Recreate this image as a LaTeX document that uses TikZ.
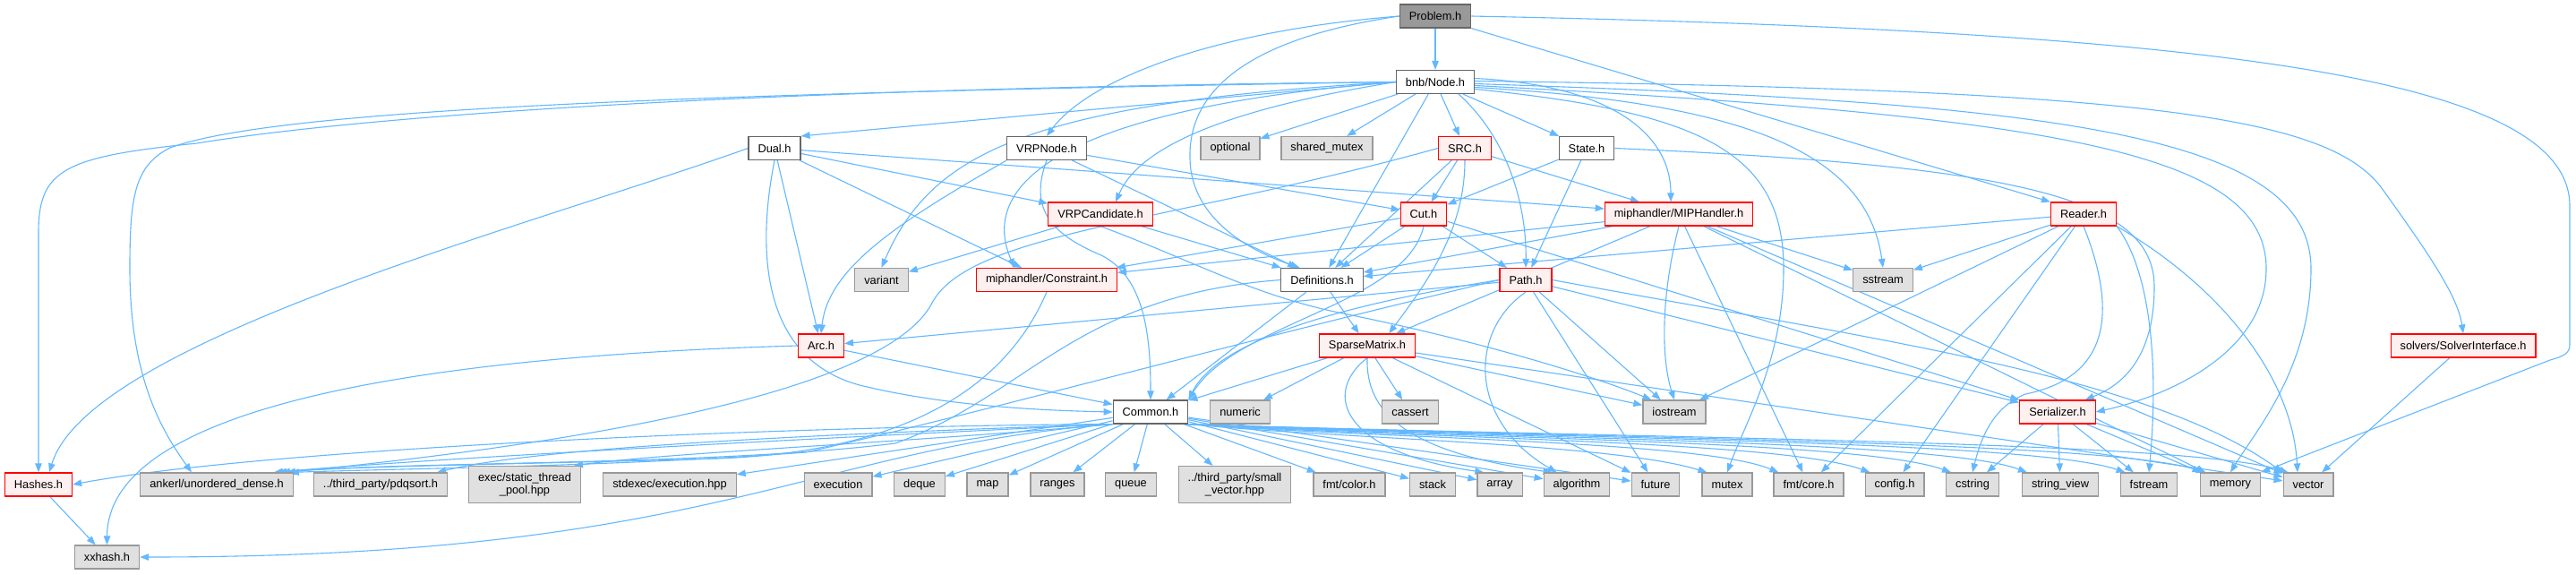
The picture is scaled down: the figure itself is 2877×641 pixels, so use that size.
\documentclass[tikz,border=0pt]{standalone}
\usepackage{fontspec}
\setmainfont{Liberation Sans}
\usetikzlibrary{arrows.meta}
\pgfdeclarelayer{bg}
\pgfsetlayers{bg,main}
\definecolor{edgec}{HTML}{63B8FF}
\definecolor{redb}{HTML}{FF0000}
\definecolor{redf}{HTML}{FFF0F0}
\definecolor{greyf}{HTML}{E0E0E0}
\definecolor{greyb}{HTML}{999999}
\definecolor{darkb}{HTML}{666666}
\definecolor{probf}{HTML}{999999}
\begin{document}
\begin{tikzpicture}[x=1pt,y=-1pt,
  box/.style={draw, line width=1.2pt, minimum height=26pt, inner xsep=10.5pt, inner ysep=1pt,
    font=\fontsize{12.8}{14.5}\selectfont, text=black, align=center},
  wbox/.style={box, draw=darkb, fill=white},
  rbox/.style={box, draw=redb, fill=redf},
  gbox/.style={box, draw=greyb, fill=greyf},
  pbox/.style={box, draw=darkb, fill=probf},
  ar/.style={draw=edgec, line width=1.1pt, -{Triangle[length=10pt,width=7.5pt]}}]
\useasboundingbox (0,0) rectangle (2877,641);
% nodes
\node[pbox] (prob) at (1603,18) {Problem.h};
\node[wbox] (nb) at (1603,91.5) {bnb/Node.h};
\node[wbox] (dual) at (865,165.5) {Dual.h};
\node[wbox] (vrpn) at (1169,165.5) {VRPNode.h};
\node[gbox] (opt) at (1374,165.5) {optional};
\node[gbox] (shm) at (1482,165.5) {shared\_mutex};
\node[rbox] (src) at (1636,165.5) {SRC.h};
\node[wbox] (state) at (1772,165.5) {State.h};
\node[rbox] (vcand) at (1229,239) {VRPCandidate.h};
\node[rbox] (cut) at (1590,239) {Cut.h};
\node[rbox] (mip) at (1875,239) {miphandler/MIPHandler.h};
\node[rbox] (reader) at (2327,239) {Reader.h};
\node[gbox] (variant) at (984.5,312.5) {variant};
\node[rbox] (cons) at (1169,312.5) {miphandler/Constraint.h};
\node[wbox] (defs) at (1476.5,312.5) {Definitions.h};
\node[rbox] (path) at (1704,312.5) {Path.h};
\node[gbox] (sstream) at (2103,312.5) {sstream};
\node[rbox] (arc) at (917,386) {Arc.h};
\node[rbox] (sparse) at (1527,386) {SparseMatrix.h};
\node[rbox] (solver) at (2751,386) {solvers/SolverInterface.h};
\node[wbox] (common) at (1285,460) {Common.h};
\node[gbox] (numeric) at (1385,460) {numeric};
\node[gbox] (cassert) at (1575,460) {cassert};
\node[gbox] (iostream) at (1870,460) {iostream};
\node[rbox] (ser) at (2298,460) {Serializer.h};
\node[rbox] (hashes) at (43,541) {Hashes.h};
\node[gbox] (ankerl) at (242,541) {ankerl/unordered\_dense.h};
\node[gbox] (pdq) at (425,541) {../third\_party/pdqsort.h};
\node[gbox, minimum height=41pt] (exec) at (586,541) {exec/static\_thread\\\_pool.hpp};
\node[gbox] (stdexec) at (748,541) {stdexec/execution.hpp};
\node[gbox] (execution) at (936,541) {execution};
\node[gbox] (deque) at (1027,541) {deque};
\node[gbox] (map) at (1103,541) {map};
\node[gbox] (ranges) at (1181,541) {ranges};
\node[gbox] (queue) at (1263,541) {queue};
\node[gbox, minimum height=41pt] (smallvec) at (1379,541) {../third\_party/small\\\_vector.hpp};
\node[gbox] (fmtcolor) at (1507,541) {fmt/color.h};
\node[gbox] (stack) at (1600,541) {stack};
\node[gbox] (array) at (1675,541) {array};
\node[gbox] (algorithm) at (1761,541) {algorithm};
\node[gbox] (future) at (1849,541) {future};
\node[gbox] (mutex) at (1929,541) {mutex};
\node[gbox] (fmtcore) at (2020,541) {fmt/core.h};
\node[gbox] (config) at (2116,541) {config.h};
\node[gbox] (cstring) at (2203,541) {cstring};
\node[gbox] (strview) at (2301,541) {string\_view};
\node[gbox] (fstream) at (2400,541) {fstream};
\node[gbox] (mem) at (2491,541) {memory};
\node[gbox] (vector) at (2578,541) {vector};
\node[gbox] (xxhash) at (119.5,622) {xxhash.h};
\begin{pgfonlayer}{bg}
\fill[white] (0,0) rectangle (2877,641);
% Problem.h
\draw[ar] (prob) -- (nb);
\draw[ar] (prob.west) .. controls (1350,35) and (1215,90) .. (vrpn.north);
\draw[ar] (prob.west) .. controls (1380,45) and (1320,110) .. (1330,190) .. controls (1340,255) and (1410,285) .. ([xshift=-25pt]defs.north);
\draw[ar] (prob.south east) -- (reader.north west);
\draw[ar] (prob.east) .. controls (2500,35) and (2870,90) .. (2870,230) -- (2870,385) .. controls (2870,395) and (2862,398) .. (2848,402) -- (mem.north east);
% bnb/Node.h
\draw[ar] (nb.west) -- (dual.north east);
\draw[ar] (nb.west) .. controls (700,100) and (340,140) .. (220,160) .. controls (70,175) and (43,190) .. (43,260) -- (hashes.north);
\draw[ar] (nb.west) .. controls (700,105) and (300,125) .. (190,165) .. controls (150,185) and (145,220) .. (145,300) .. controls (145,420) and (180,480) .. ([xshift=-28pt]ankerl.north);
\draw[ar] (nb.west) .. controls (1150,115) and (1040,170) .. (variant.north);
\draw[ar] (nb.west) .. controls (1200,120) and (1090,200) .. ([xshift=-36pt]cons.north);
\draw[ar] (nb.west) .. controls (1350,125) and (1270,170) .. ([xshift=17pt]vcand.north);
\draw[ar] (nb) -- (opt);
\draw[ar] (nb) -- (shm);
\draw[ar] (nb) -- (defs);
\draw[ar] (nb) -- (src);
\draw[ar] (nb) -- (state);
\draw[ar] ([xshift=26pt]nb.south) .. controls (1690,160) and (1705,240) .. (path.north);
\draw[ar] ([yshift=4pt]nb.east) .. controls (1800,95) and (1866,150) .. ([xshift=-9pt]mip.north);
\draw[ar] ([yshift=-6pt]nb.east) .. controls (1950,115) and (2085,170) .. (sstream.north);
\draw[ar] ([yshift=-8pt]nb.east) .. controls (1900,125) and (1992,170) .. (1992,300) .. controls (1992,400) and (1950,470) .. (mutex.north);
\draw[ar] ([yshift=-4pt]nb.east) .. controls (2300,130) and (2531,170) .. (2531,300) .. controls (2531,390) and (2430,440) .. (ser.east);
\draw[ar] ([yshift=-2pt]nb.east) .. controls (2300,115) and (2581,150) .. (2581,300) .. controls (2581,410) and (2520,480) .. (mem.north);
\draw[ar] ([yshift=1pt]nb.east) .. controls (2400,100) and (2600,130) .. (2660,210) .. controls (2710,280) and (2745,330) .. (solver.north);
% Dual.h
\draw[ar] (dual) -- (vcand);
\draw[ar] (dual) -- (mip);
\draw[ar] (dual) -- (cons);
\draw[ar] (dual) -- (arc);
\draw[ar] (dual.south) .. controls (845,280) and (850,400) .. (960,430) .. controls (1050,452) and (1150,458) .. (common.west);
\draw[ar] (dual.west) .. controls (600,250) and (100,380) .. ([xshift=12pt]hashes.north);
% VRPNode.h
\draw[ar] (vrpn.south west) .. controls (1000,250) and (925,300) .. (arc.north);
\draw[ar] (vrpn.south) .. controls (1150,230) and (1170,260) .. (1230,285) .. controls (1280,310) and (1285,380) .. (common.north);
\draw[ar] (vrpn) -- (defs);
\draw[ar] (vrpn) -- (cut);
% VRPCandidate.h
\draw[ar] (vcand) -- (variant);
\draw[ar] (vcand) -- (defs);
\draw[ar] (vcand.south) .. controls (1330,290) and (1400,330) .. (1500,350) .. controls (1650,380) and (1780,420) .. ([xshift=10pt]iostream.north west);
% SRC.h
\draw[ar] (src) -- (cut);
\draw[ar] (src) -- (defs);
\draw[ar] (src.south) .. controls (1636,260) and (1590,320) .. ([xshift=-30pt]sparse.north east);
\draw[ar] (src) -- (mip);
\draw[ar] (src.west) .. controls (1300,250) and (1080,260) .. (1040,340) .. controls (990,430) and (700,490) .. ([xshift=-8pt]ankerl.north east);
% Cut.h
\draw[ar] (cut) -- (cons);
\draw[ar] (cut) -- (defs);
\draw[ar] (cut.south) .. controls (1570,340) and (1380,360) .. (common.north east);
\draw[ar] (cut) -- (path);
\draw[ar] (cut) -- (ser);
% State.h
\draw[ar] (state) -- (cut);
\draw[ar] (state) -- (path);
\draw[ar] (state.east) .. controls (2250,185) and (2406,220) .. (2406,320) .. controls (2406,400) and (2370,430) .. ([xshift=-12pt]ser.north east);
% MIPHandler.h
\draw[ar] (mip) -- (defs);
\draw[ar] (mip) -- (cons);
\draw[ar] (mip) -- (sparse);
\draw[ar] (mip.south) .. controls (1855,330) and (1855,400) .. (iostream.north);
\draw[ar] (mip) -- (sstream);
\draw[ar] (mip) -- (fmtcore);
\draw[ar] (mip) -- (vector);
\draw[ar] (mip) -- (mem);
% Reader.h
\draw[ar] (reader) -- (defs);
\draw[ar] (reader) -- (sstream);
\draw[ar] (reader) -- (iostream);
\draw[ar] (reader) -- (fmtcore);
\draw[ar] (reader) -- (config);
\draw[ar] (reader.south) .. controls (2362,340) and (2362,420) .. (2262,440) .. controls (2225,455) and (2212,490) .. (cstring.north);
\draw[ar] (reader.south east) .. controls (2400,300) and (2412,400) .. (fstream.north);
\draw[ar] (reader.south east) .. controls (2480,320) and (2560,420) .. ([xshift=-12pt]vector.north);
% Path.h
\draw[ar] (path) -- (arc);
\draw[ar] (path.west) .. controls (1500,340) and (1360,380) .. (common.north east);
\draw[ar] (path.west) .. controls (1350,390) and (1100,460) .. (900,505) .. controls (700,520) and (500,522) .. ([xshift=-4pt]ankerl.north east);
\draw[ar] (path.south) .. controls (1640,370) and (1640,470) .. ([xshift=15pt]algorithm.north west);
\draw[ar] (path) -- (future);
\draw[ar] (path) -- (iostream);
\draw[ar] (path) -- (ser);
\draw[ar] (path.east) .. controls (2100,380) and (2400,420) .. (vector.north west);
% SparseMatrix.h
\draw[ar] (sparse) -- (common);
\draw[ar] (sparse) -- (numeric);
\draw[ar] (sparse) -- (cassert);
\draw[ar] (sparse.south) .. controls (1475,440) and (1500,505) .. ([xshift=8pt]array.north west);
\draw[ar] (sparse.south) .. controls (1525,460) and (1570,505) .. ([xshift=10pt]algorithm.north west);
\draw[ar] (sparse) -- (future);
\draw[ar] (sparse) -- (iostream);
\draw[ar] (sparse) -- (vector);
% Definitions.h
\draw[ar] (defs) -- (common);
\draw[ar] (defs) -- (sparse);
\draw[ar] (defs.west) .. controls (1200,330) and (1150,440) .. (1000,495) .. controls (800,520) and (450,515) .. ([xshift=-14pt]ankerl.north east);
% Constraint.h
\draw[ar] (cons.south) .. controls (1120,440) and (1000,505) .. (800,512) .. controls (600,518) and (400,520) .. ([xshift=-18pt]ankerl.north east);
% Arc.h
\draw[ar] (arc) -- (common);
\draw[ar] (arc.west) .. controls (400,400) and (120,470) .. (xxhash.north);
% Hashes.h
\draw[ar] (hashes) -- (xxhash);
% Common.h
\draw[ar] (common.south west) .. controls (900,475) and (300,500) .. (hashes.east);
\draw[ar] (common.south west) .. controls (1000,485) and (500,510) .. ([xshift=-22pt]ankerl.north east);
\draw[ar] (common.south west) .. controls (900,485) and (600,500) .. ([xshift=-12pt]pdq.north east);
\draw[ar] (common.south west) .. controls (1000,495) and (750,505) .. ([xshift=-8pt]exec.north east);
\draw[ar] (common) -- (stdexec);
\draw[ar] (common) -- (execution);
\draw[ar] (common) -- (deque);
\draw[ar] (common) -- (map);
\draw[ar] (common) -- (ranges);
\draw[ar] (common) -- (queue);
\draw[ar] (common) -- (smallvec);
\draw[ar] (common) -- (fmtcolor);
\draw[ar] (common) -- (stack);
\draw[ar] (common) -- (array);
\draw[ar] (common) -- (algorithm);
\draw[ar] (common) -- (future);
\draw[ar] (common.south east) .. controls (1500,490) and (1800,495) .. ([xshift=6pt]mutex.north west);
\draw[ar] (common.south east) .. controls (1550,490) and (1900,492) .. ([xshift=6pt]fmtcore.north west);
\draw[ar] (common.south east) .. controls (1600,490) and (1990,492) .. ([xshift=6pt]config.north west);
\draw[ar] (common.south east) .. controls (1650,490) and (2080,492) .. ([xshift=6pt]cstring.north west);
\draw[ar] (common.south east) .. controls (1700,490) and (2170,492) .. ([xshift=6pt]strview.north west);
\draw[ar] (common.south east) .. controls (1750,490) and (2270,492) .. ([xshift=6pt]fstream.north west);
\draw[ar] (common.south east) .. controls (1800,490) and (2350,492) .. ([xshift=6pt]mem.north west);
\draw[ar] (common.south east) .. controls (1850,490) and (2440,492) .. ([xshift=6pt]vector.north west);
\draw[ar] (common.south west) .. controls (900,500) and (800,622) .. (xxhash.east);
% Serializer.h
\draw[ar] (ser) -- (cstring);
\draw[ar] (ser) -- (strview);
\draw[ar] (ser) -- (fstream);
\draw[ar] (ser) -- (mem);
\draw[ar] (ser) -- (vector);
% SolverInterface.h
\draw[ar] (solver) -- (vector);
\end{pgfonlayer}
\end{tikzpicture}
\end{document}
